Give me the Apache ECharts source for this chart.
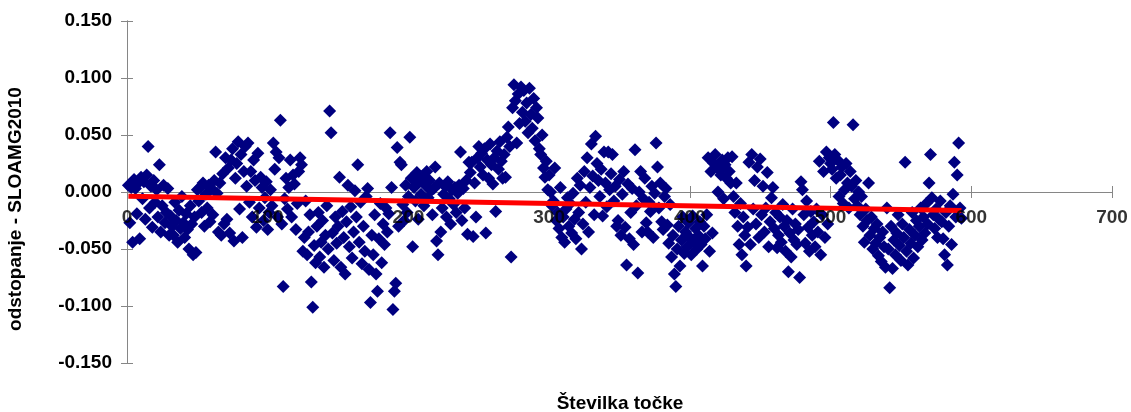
<!DOCTYPE html>
<html>
<head>
<meta charset="utf-8">
<script src="https://cdn.jsdelivr.net/npm/echarts@6/dist/echarts.min.js"></script>
<style>
  html, body { margin: 0; padding: 0; background: #ffffff; }
  #chart { width: 1131px; height: 412px; }
</style>
</head>
<body>
<div id="chart"></div>
<script>
// Odstopanje po točkah (točke 1–593), po stotinah
const dev001 = [
  0.006, -0.027, 0.004, -0.044, 0.011, 0.003, -0.019, 0.008, -0.041, 0.013,
  -0.006, 0.009, -0.024, 0.015, 0.040, -0.014, 0.005, -0.031, 0.010, -0.009,
  0.002, -0.022, 0.024, -0.035, -0.012, 0.006, -0.027, -0.018, 0.003, -0.038,
  -0.021, -0.030, -0.038, -0.009, -0.025, -0.044, -0.016, -0.032, -0.004, -0.027,
  -0.040, -0.019, -0.033, -0.050, -0.012, -0.028, -0.055, -0.022, -0.053, 0.002,
  -0.008, 0.004, -0.018, 0.008, -0.030, -0.002, -0.014, 0.006, -0.026, 0.003,
  -0.020, 0.010, 0.035, -0.001, -0.035, 0.008, -0.038, 0.016, -0.028, 0.030,
  -0.024, 0.021, -0.036, 0.028, 0.038, -0.043, 0.012, 0.025, 0.044, -0.015,
  0.033, -0.040, 0.018, 0.040, 0.005, 0.043, -0.009, 0.018, -0.022, 0.028,
  0.010, -0.031, 0.034, -0.014, 0.013, 0.004, -0.025, -0.005, 0.009, -0.033
];
const dev101 = [
  -0.018, 0.002, -0.012, 0.043, 0.020, 0.035, -0.022, 0.030, 0.063, -0.028,
  -0.083, -0.006, 0.012, -0.015, 0.004, 0.028, -0.022, 0.015, 0.007, -0.033,
  -0.010, 0.018, 0.030, 0.024, -0.052, -0.040, -0.008, -0.055, -0.035, -0.020,
  -0.079, -0.101, -0.047, -0.062, -0.030, -0.018, -0.057, -0.044, -0.025, -0.066,
  -0.038, -0.012, -0.050, 0.071, 0.052, -0.036, -0.060, -0.022, -0.045, -0.030,
  0.013, -0.066, -0.017, -0.040, -0.072, -0.026, 0.006, -0.048, -0.013, -0.058,
  -0.035, 0.001, -0.022, 0.024, -0.044, -0.009, -0.063, -0.030, -0.052, -0.004,
  0.003, -0.068, -0.097, -0.038, -0.055, -0.020, -0.072, -0.087, -0.041, -0.010,
  -0.062, -0.028, -0.046, -0.014, -0.035, -0.019, 0.052, 0.004, -0.103, -0.087,
  -0.080, 0.039, -0.030, 0.026, 0.024, -0.011, -0.025, 0.006, -0.018, -0.004
];
const dev201 = [
  0.048, 0.012, -0.048, 0.004, -0.008, 0.017, -0.024, 0.009, -0.002, 0.014,
  -0.012, 0.006, 0.018, -0.005, 0.010, 0.001, -0.020, 0.003, 0.022, -0.043,
  -0.055, 0.008, -0.035, -0.014, -0.002, 0.005, -0.022, 0.009, -0.006, -0.028,
  0.002, -0.011, 0.004, -0.018, -0.001, 0.006, 0.035, -0.025, 0.003, -0.014,
  0.010, -0.037, 0.026, 0.017, 0.026, -0.039, 0.008, -0.022, 0.030, 0.040,
  0.022, 0.034, 0.015, 0.038, -0.036, 0.028, 0.012, 0.042, 0.024, 0.007,
  0.030, -0.017, 0.036, 0.020, 0.044, 0.027, 0.012, 0.033, 0.013, 0.048,
  0.057, 0.040, -0.057, 0.074, 0.094, 0.080, 0.043, 0.086, 0.060, 0.092,
  0.070, 0.089, 0.062, 0.078, 0.052, 0.091, 0.068, 0.056, 0.082, 0.045,
  0.074, 0.065, 0.038, 0.033, 0.050, 0.021, 0.013, 0.027, 0.002, 0.015
];
const dev301 = [
  0.000, -0.012, -0.008, 0.021, -0.025, -0.018, -0.032, 0.004, -0.040, -0.022,
  -0.044, -0.015, -0.005, -0.030, -0.010, -0.036, -0.001, -0.024, -0.041, 0.012,
  -0.018, 0.006, -0.050, -0.028, 0.018, -0.009, 0.030, -0.035, 0.004, 0.042,
  0.014, -0.020, 0.049, 0.025, 0.010, -0.004, 0.020, -0.021, 0.035, 0.008,
  -0.013, 0.035, 0.002, 0.016, 0.033, -0.008, 0.005, -0.030, -0.025, 0.011,
  -0.038, -0.002, 0.018, -0.031, -0.064, 0.007, -0.041, -0.018, 0.003, -0.046,
  0.037, -0.012, -0.071, 0.000, 0.018, -0.035, -0.006, 0.012, -0.027, -0.035,
  -0.009, -0.017, 0.005, -0.040, -0.001, 0.043, 0.022, -0.014, 0.008, -0.026,
  -0.033, -0.004, 0.003, -0.029, -0.045, -0.011, -0.057, -0.038, -0.072, -0.083,
  -0.050, -0.030, -0.065, -0.042, -0.022, -0.054, -0.035, -0.048, -0.027, -0.040
];
const dev401 = [
  -0.055, -0.021, -0.044, -0.032, -0.050, -0.038, -0.026, -0.046, -0.065, -0.030,
  -0.041, -0.020, 0.030, -0.052, 0.018, -0.036, 0.025, 0.033, 0.022, 0.000,
  0.020, 0.015, 0.028, -0.006, 0.024, 0.012, 0.030, 0.018, 0.008, 0.031,
  -0.004, -0.018, 0.008, -0.030, -0.046, -0.010, -0.055, -0.022, -0.038, -0.065,
  -0.031, 0.026, -0.046, 0.033, -0.015, 0.010, -0.028, 0.022, -0.040, 0.029,
  -0.020, 0.005, -0.035, -0.014, 0.017, -0.048, -0.026, -0.005, 0.004, -0.032,
  -0.018, -0.049, -0.038, -0.022, -0.044, -0.011, -0.030, -0.052, -0.025, -0.070,
  -0.036, -0.057, -0.015, -0.042, -0.028, -0.046, -0.033, -0.075, 0.009, 0.002,
  -0.020, -0.045, -0.008, -0.031, -0.052, -0.017, -0.038, -0.026, -0.048, -0.015,
  -0.035, 0.027, -0.055, -0.020, 0.018, -0.040, 0.035, -0.028, 0.030, 0.025
];
const dev501 = [
  0.020, 0.061, 0.033, 0.012, 0.028, -0.004, 0.015, 0.022, -0.010, 0.002,
  0.025, 0.008, -0.014, 0.018, 0.005, 0.059, -0.006, 0.010, -0.012, 0.000,
  -0.020, -0.004, -0.030, -0.044, -0.015, -0.025, 0.008, -0.038, -0.022, -0.050,
  -0.032, -0.045, -0.028, -0.056, -0.040, -0.061, -0.035, -0.048, -0.066, -0.014,
  -0.050, -0.084, -0.030, -0.067, -0.042, -0.055, -0.036, -0.020, -0.047, -0.060,
  -0.028, -0.040, 0.026, -0.052, -0.064, -0.033, -0.045, -0.018, -0.058, -0.038,
  -0.025, -0.048, -0.030, -0.014, -0.042, -0.022, -0.036, -0.010, -0.028, 0.008,
  0.033, -0.005, -0.020, -0.032, -0.015, -0.040, -0.024, -0.008, -0.026, -0.041,
  -0.055, -0.018, -0.064, -0.030, -0.012, -0.046, -0.002, 0.026, -0.022, 0.015,
  0.043, -0.014, -0.023
];

// Linearni trend (začetna in končna točka)
const trendX = [1, 593];
const trendY = [-0.0037, -0.0163];

const xTicks = { min: 0, max: 700, step: 100 };
const yTicks = { min: -0.15, max: 0.15, step: 0.05 };
const xTickValues = [0, 100, 200, 300, 400, 500, 600, 700];

const deviations = [].concat(dev001, dev101, dev201, dev301, dev401, dev501);
const points = deviations.map((v, i) => [i + 1, v]);
const trend = trendX.map((x, i) => [x, trendY[i]]);
const xLabelPoints = xTickValues.map(v => [v, 0]);

const FONT = '"Liberation Sans", Arial, sans-serif';
const FS = 19;
const axisGray = '#868686';
const plotBox = { left: 127, right: 19, top: 21, bottom: 49, containLabel: false };

// Two identical grids: each adds one half of the ticks so that they cross the axis lines.
function axisCommon(t, gridIndex, inside) {
  return {
    type: 'value', gridIndex: gridIndex, min: t.min, max: t.max, interval: t.step,
    splitLine: { show: false },
    axisLine: { show: true, onZero: true, lineStyle: { color: axisGray, width: 1 } },
    axisTick: { show: true, inside: inside, length: 6, lineStyle: { color: axisGray, width: 1 } },
    axisLabel: { show: false }
  };
}

const chart = echarts.init(document.getElementById('chart'), null, { renderer: 'canvas' });
chart.setOption({
  animation: false,
  backgroundColor: '#ffffff',
  grid: [Object.assign({}, plotBox), Object.assign({}, plotBox)],
  xAxis: [axisCommon(xTicks, 0, false), axisCommon(xTicks, 1, true)],
  yAxis: [
    Object.assign(axisCommon(yTicks, 0, false), {
      axisLabel: {
        show: true, margin: 15, color: '#000', fontFamily: FONT, fontWeight: 'bold', fontSize: FS,
        formatter: v => v.toFixed(3)
      }
    }),
    axisCommon(yTicks, 1, true)
  ],
  graphic: [
    {
      type: 'text', x: 620, y: 404,
      style: { text: 'Številka točke', fill: '#000', font: 'bold ' + FS + 'px ' + FONT,
               textAlign: 'center', textVerticalAlign: 'middle' }
    },
    {
      type: 'text', x: 16, y: 209, rotation: Math.PI / 2,
      style: { text: 'odstopanje - SLOAMG2010', fill: '#000', font: 'bold ' + FS + 'px ' + FONT,
               textAlign: 'center', textVerticalAlign: 'middle' }
    }
  ],
  series: [
    {
      type: 'scatter', xAxisIndex: 0, yAxisIndex: 0,
      symbol: 'diamond', symbolSize: 13,
      itemStyle: { color: '#000080', opacity: 1 },
      data: points, z: 2
    },
    {
      type: 'line', xAxisIndex: 0, yAxisIndex: 0,
      data: trend, showSymbol: false, symbol: 'none',
      lineStyle: { color: '#ff0000', width: 5 },
      z: 3
    },
    {
      // x tick labels, hung below the zero line
      type: 'scatter', xAxisIndex: 0, yAxisIndex: 0,
      data: xLabelPoints, symbol: 'circle', symbolSize: 1,
      itemStyle: { color: 'rgba(0,0,0,0)' },
      silent: true, clip: false, z: 4,
      label: {
        show: true, position: 'bottom', distance: 16,
        formatter: p => String(p.value[0]),
        color: '#000', fontFamily: FONT, fontWeight: 'bold', fontSize: FS
      },
      labelLayout: { hideOverlap: false },
      emphasis: { disabled: true }
    }
  ]
});
</script>
</body>
</html>
